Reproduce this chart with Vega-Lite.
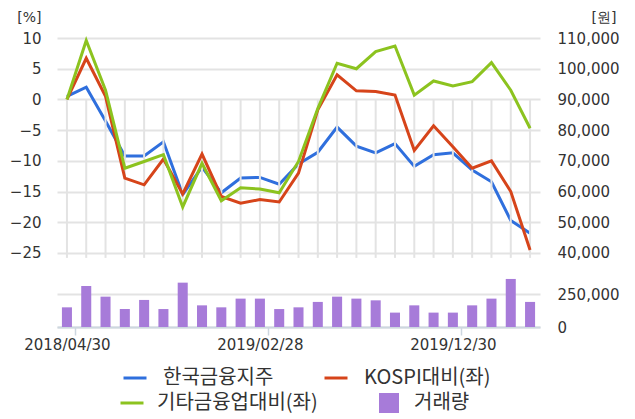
{
  "$schema": "https://vega.github.io/schema/vega-lite/v6.json",
  "width": 483,
  "height": 289,
  "autosize": {"type": "none"},
  "padding": {"left": 57, "top": 38, "right": 95, "bottom": 92},
  "background": "white",
  "config": {
    "view": {"stroke": null},
    "font": "DejaVu Sans",
    "axis": {"labelFont": "DejaVu Sans", "labelFontSize": 15, "labelColor": "#333333", "titleFont": "DejaVu Sans", "titleFontSize": 14, "titleColor": "#333333", "titleFontWeight": "normal"},
    "legend": {"labelFont": "Noto Sans CJK KR", "labelFontSize": 20, "labelColor": "#333333", "labelOffset": 15, "labelLimit": 400, "symbolSize": 529, "symbolStrokeWidth": 3, "symbolType": "stroke", "title": null, "direction": "horizontal", "orient": "none"}
  },
  "data": {"values": [
    {"date": "2018/04/30", "price": 91000, "kospi": 0, "other": 0, "volume": 149000},
    {"date": "2018/05/31", "price": 94000, "kospi": 6.7, "other": 9.6, "volume": 311000},
    {"date": "2018/06/29", "price": 83000, "kospi": 0.5, "other": 1.5, "volume": 230000},
    {"date": "2018/07/31", "price": 71600, "kospi": -12.8, "other": -11.2, "volume": 136000},
    {"date": "2018/08/31", "price": 71600, "kospi": -13.9, "other": -10.1, "volume": 205000},
    {"date": "2018/09/28", "price": 76200, "kospi": -9.7, "other": -9.0, "volume": 136000},
    {"date": "2018/10/31", "price": 59000, "kospi": -15.4, "other": -17.5, "volume": 336000},
    {"date": "2018/11/30", "price": 68000, "kospi": -8.9, "other": -10.4, "volume": 164000},
    {"date": "2018/12/28", "price": 59600, "kospi": -15.8, "other": -16.5, "volume": 149000},
    {"date": "2019/01/31", "price": 64400, "kospi": -16.9, "other": -14.4, "volume": 215000},
    {"date": "2019/02/28", "price": 64600, "kospi": -16.3, "other": -14.6, "volume": 215000},
    {"date": "2019/03/29", "price": 62400, "kospi": -16.7, "other": -15.2, "volume": 136000},
    {"date": "2019/04/30", "price": 69000, "kospi": -12.0, "other": -10.1, "volume": 149000},
    {"date": "2019/05/31", "price": 72800, "kospi": -1.7, "other": -1.5, "volume": 190000},
    {"date": "2019/06/28", "price": 81000, "kospi": 4.0, "other": 5.9, "volume": 230000},
    {"date": "2019/07/31", "price": 74800, "kospi": 1.4, "other": 5.0, "volume": 215000},
    {"date": "2019/08/30", "price": 72600, "kospi": 1.3, "other": 7.8, "volume": 202000},
    {"date": "2019/09/30", "price": 75600, "kospi": 0.7, "other": 8.7, "volume": 109000},
    {"date": "2019/10/31", "price": 68200, "kospi": -8.3, "other": 0.7, "volume": 164000},
    {"date": "2019/11/29", "price": 72000, "kospi": -4.3, "other": 3.0, "volume": 109000},
    {"date": "2019/12/30", "price": 72600, "kospi": -7.7, "other": 2.2, "volume": 109000},
    {"date": "2020/01/31", "price": 67000, "kospi": -11.2, "other": 2.9, "volume": 164000},
    {"date": "2020/02/28", "price": 63200, "kospi": -10.0, "other": 6.0, "volume": 215000},
    {"date": "2020/03/31", "price": 50600, "kospi": -15.0, "other": 1.5, "volume": 364000},
    {"date": "2020/04/29", "price": 46400, "kospi": -24.5, "other": -4.7, "volume": 190000}
  ]},
  "encoding": {
    "x": {
      "field": "date", "type": "ordinal", "sort": null,
      "scale": {"type": "band", "paddingInner": 0.48, "paddingOuter": 0.255},
      "axis": {
        "title": null, "labelAngle": 0,
        "values": ["2018/04/30", "2019/02/28", "2019/12/30"],
        "domainColor": "#cdd7e0", "domainWidth": 2,
        "tickColor": "#cdd7e0", "tickSize": 8, "tickWidth": 1.5,
        "tickOffset": 8.5, "labelOffset": -8.5, "labelPadding": 2,
        "labelFontSize": 15
      }
    }
  },
  "layer": [
    {
      "mark": {"type": "bar"},
      "encoding": {
        "y": {
          "field": "volume", "type": "quantitative",
          "scale": {"domain": [0, 2189394], "nice": false, "zero": true},
          "axis": {"orient": "right", "title": null, "values": [0, 250000], "format": ",d", "grid": true, "gridColor": "#e3e3e3", "gridWidth": 2, "domain": false, "ticks": false, "tickSize": 0, "labelPadding": 17}
        },
        "color": {
          "datum": "거래량",
          "scale": {
            "domain": ["기타금융업대비(좌)", "거래량"],
            "range": ["#8cc31f", "#a77bd9"]
          },
          "legend": {
            "legendX": 65,
            "legendY": 355,
            "columnPadding": 61,
            "encode": {
              "symbols": {
                "update": {
                  "shape": {"signal": "datum.value === '거래량' ? 'square' : 'stroke'"},
                  "size": {"signal": "datum.value === '거래량' ? 400 : 529"},
                  "fill": {"signal": "datum.value === '거래량' ? scale('color', datum.value) : 'transparent'"},
                  "stroke": {"signal": "scale('color', datum.value)"},
                  "strokeWidth": {"signal": "datum.value === '거래량' ? 0 : 3"},
                  "opacity": {"value": 1}
                }
              }
            }
          }
        }
      }
    },
    {
      "mark": {"type": "line", "strokeWidth": 3},
      "encoding": {
        "y": {
          "field": "price", "type": "quantitative",
          "scale": {"domain": [15900, 110000], "nice": false, "zero": false},
          "axis": {"orient": "right", "title": "[원]", "titleAngle": 0, "titleAlign": "right", "titleBaseline": "alphabetic", "titleX": 76, "titleY": -17, "values": [40000, 50000, 60000, 70000, 80000, 90000, 100000, 110000], "format": ",d", "grid": false, "domain": false, "ticks": false, "tickSize": 0, "labelPadding": 17}
        },
        "stroke": {
          "datum": "한국금융지주",
          "scale": {
            "domain": ["한국금융지주", "KOSPI대비(좌)"],
            "range": ["#2f6fdd", "#d6441a"]
          },
          "legend": {
            "legendX": 65,
            "legendY": 327,
            "columnPadding": 44
          }
        }
      }
    },
    {
      "layer": [
        {
          "mark": {"type": "rule", "color": "#e3e3e3", "strokeWidth": 2},
          "encoding": {"y": {"datum": -25.8}}
        },
        {
          "mark": {"type": "line", "strokeWidth": 3},
          "encoding": {
            "y": {"field": "kospi", "type": "quantitative"},
            "stroke": {"datum": "KOSPI대비(좌)"}
          }
        },
        {
          "mark": {"type": "line", "strokeWidth": 3},
          "encoding": {
            "y": {
              "field": "other", "type": "quantitative",
              "scale": {"domain": [-37.05, 10], "nice": false, "zero": false},
              "axis": {"orient": "left", "title": "[%]", "titleAngle": 0, "titleAlign": "right", "titleBaseline": "alphabetic", "titleX": -16, "titleY": -17, "values": [-25, -20, -15, -10, -5, 0, 5, 10], "grid": true, "gridColor": "#e3e3e3", "gridWidth": 2, "domain": false, "ticks": false, "tickSize": 0, "labelPadding": 16}
            },
            "color": {"datum": "기타금융업대비(좌)"}
          }
        }
      ]
    }
  ],
  "resolve": {"scale": {"y": "independent"}, "axis": {"y": "independent"}}
}
